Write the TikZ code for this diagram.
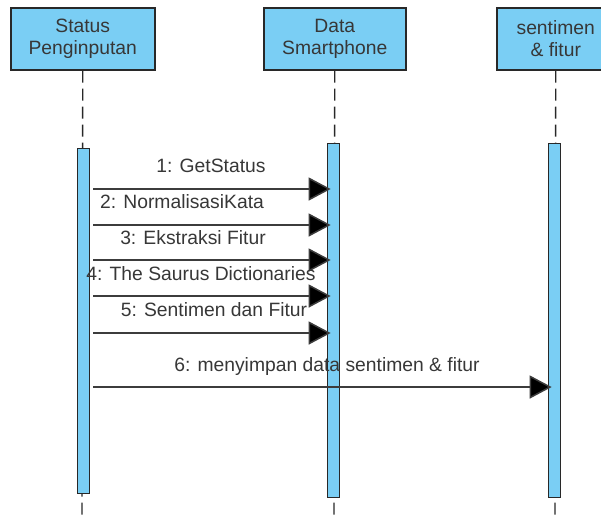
\documentclass[tikz,border=0pt]{standalone}
\usepackage{fontspec}
\setmainfont{Liberation Sans}
\usetikzlibrary{arrows.meta}
\definecolor{boxblue}{RGB}{122,206,244}
\definecolor{edge}{RGB}{40,40,40}
\definecolor{txt}{RGB}{55,55,55}
\definecolor{msgline}{RGB}{60,60,60}
\begin{document}
\begin{tikzpicture}[x=1pt,y=-1pt,
  every node/.style={font=\fontsize{19.3}{22}\selectfont, text=txt, inner sep=0pt},
  objbox/.style={draw=edge, line width=1.5pt, fill=boxblue, rectangle, anchor=north west, align=center},
  actbar/.style={draw=edge, line width=1.3pt, fill=boxblue, rectangle, anchor=north west, minimum width=12pt},
  life/.style={draw=edge, line width=1.4pt, dash pattern=on 12pt off 6pt},
  msg/.style={draw=msgline, line width=1.5pt, -{Triangle[length=22pt,width=23pt,fill=black]}, shorten <=3pt, shorten >=3pt},
  lbl/.style={anchor=base}]
\useasboundingbox (0,0) rectangle (601,515);
% objects
\node[objbox, minimum width=144pt, minimum height=62pt] (b1) at (10,7) {Status\\Penginputan};
\node[objbox, minimum width=142pt, minimum height=62pt] (b2) at (263,7) {Data\\Smartphone};
\node[objbox, minimum width=118pt, minimum height=62pt] (b3) at (496,7) {sentimen\\\& fitur};
% lifeline ends
\coordinate (e1) at (82,515);
\coordinate (e2) at (334,515);
\coordinate (e3) at (555,515);
\draw[life] (b1.south) -- (e1);
\draw[life] (b2.south) -- (e2);
\draw[life] (b3.south) -- (e3);
% activation bars
\node[actbar, minimum height=345pt] (a1) at (77,148) {};
\node[actbar, minimum height=354pt] (a2) at (327,143) {};
\node[actbar, minimum height=354pt] (a3) at (548,143) {};
% messages
\draw[msg] (a1.east |- 0,189) -- (a2.center |- 0,189);
\draw[msg] (a1.east |- 0,225) -- (a2.center |- 0,225);
\draw[msg] (a1.east |- 0,260) -- (a2.center |- 0,260);
\draw[msg] (a1.east |- 0,296) -- (a2.center |- 0,296);
\draw[msg] (a1.east |- 0,333) -- (a2.center |- 0,333);
\draw[msg] (a1.east |- 0,387) -- (a3.center |- 0,387);
% labels
\node[lbl] (m1) at (211,172) {1: GetStatus};
\node[lbl] (m2) at (182,208) {2: NormalisasiKata};
\node[lbl] (m3) at (193,244) {3: Ekstraksi Fitur};
\node[lbl] (m4) at (201,280) {4: The Saurus Dictionaries};
\node[lbl] (m5) at (214,316) {5: Sentimen dan Fitur};
\node[lbl] (m6) at (327,371) {6: menyimpan data sentimen \& fitur};
\end{tikzpicture}
\end{document}
